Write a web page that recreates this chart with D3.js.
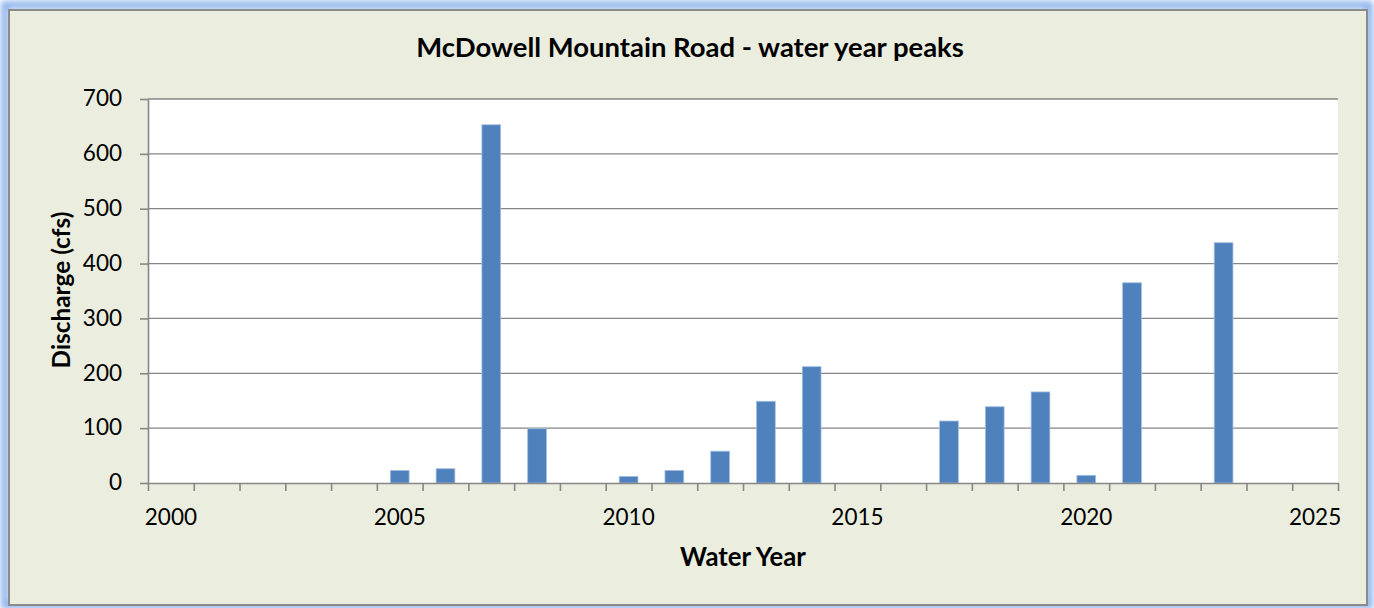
<!DOCTYPE html>
<html>
<head>
<meta charset="utf-8">
<script src="https://cdn.jsdelivr.net/npm/d3@7"></script>
<style>
  html, body { margin: 0; padding: 0; background: #ffffff; }
  svg { display: block; }
  text { font-family: Lato, "Open Sans", sans-serif; fill: #000; }
</style>
</head>
<body>
<svg id="chart" width="1374" height="608"></svg>
<script>
// ---- data ----
const years = d3.range(2000, 2026);            // categories 2000..2025
const peakYears = [2005, 2006, 2007, 2008, 2010, 2011, 2012, 2013, 2014, 2017, 2018, 2019, 2020, 2021, 2023];
const peakValues = [23, 26, 653, 99, 12, 23, 58, 149, 212, 113, 139, 166, 14, 365, 438];
const yTicks = [0, 100, 200, 300, 400, 500, 600, 700];
const xLabelYears = [2000, 2005, 2010, 2015, 2020, 2025];
const titleText = "McDowell Mountain Road - water year peaks";
const xTitle = "Water Year";
const yTitle = "Discharge (cfs)";

// ---- layout ----
const W = 1374, H = 608;
const plot = { left: 148, right: 1338, top: 99, bottom: 483 };
const gray = "#868686";

const svg = d3.select("#chart");

// outer frame with blue glow
const defs = svg.append("defs");
const f = defs.append("filter").attr("id", "glow").attr("x", "-5%").attr("y", "-5%").attr("width", "110%").attr("height", "110%");
f.append("feGaussianBlur").attr("stdDeviation", 3);
svg.append("rect").attr("x", 5).attr("y", 5).attr("width", W - 10).attr("height", H - 8)
  .attr("fill", "none").attr("stroke", "#8fb4ec").attr("stroke-width", 8).attr("filter", "url(#glow)");
svg.append("rect").attr("x", 9).attr("y", 10).attr("width", 1358).attr("height", 595)
  .attr("fill", "#ebeedf").attr("stroke", "#8a8a8a").attr("stroke-width", 2);

// scales
const x = d3.scaleBand().domain(years).range([plot.left, plot.right]).paddingInner(0.59).paddingOuter(0.295);
const xSlots = d3.scaleLinear().domain([0, years.length]).range([plot.left, plot.right]);
const y = d3.scaleLinear().domain([0, 700]).range([plot.bottom, plot.top]);

// plot area
svg.append("rect").attr("x", plot.left).attr("y", plot.top)
  .attr("width", plot.right - plot.left).attr("height", plot.bottom - plot.top).attr("fill", "#ffffff");

// gridlines
svg.append("g").selectAll("line").data(yTicks.filter(d => d > 0)).join("line")
  .attr("x1", plot.left).attr("x2", plot.right)
  .attr("y1", d => y(d)).attr("y2", d => y(d))
  .attr("stroke", gray).attr("stroke-width", 1.3);

// bars
const data = peakYears.map((yr, i) => ({ year: yr, value: peakValues[i] }));
svg.append("g").selectAll("rect").data(data).join("rect")
  .attr("x", d => x(d.year)).attr("width", x.bandwidth())
  .attr("y", d => y(d.value)).attr("height", d => y(0) - y(d.value))
  .attr("fill", "#4f81bd").attr("stroke", "#a6bfe0").attr("stroke-width", 0.8);

// y axis
const yAxis = svg.append("g").attr("transform", `translate(${plot.left},0)`)
  .call(d3.axisLeft(y).tickValues(yTicks).tickSize(8).tickPadding(18).tickSizeOuter(0));
yAxis.select(".domain").attr("stroke", gray).attr("stroke-width", 1.6);
yAxis.selectAll(".tick line").attr("stroke", gray).attr("stroke-width", 1.6);
yAxis.selectAll(".tick text").attr("font-size", 22.5).attr("font-family", "Lato").attr("fill", "#000").attr("dy", "0.3em");

// x axis: tick marks at slot boundaries
const xAxisTicks = svg.append("g").attr("transform", `translate(0,${plot.bottom})`)
  .call(d3.axisBottom(xSlots).tickValues(d3.range(0, years.length + 1)).tickSize(8).tickFormat("").tickSizeOuter(0));
xAxisTicks.select(".domain").attr("stroke", gray).attr("stroke-width", 1.6);
xAxisTicks.selectAll(".tick line").attr("stroke", gray).attr("stroke-width", 1.6);

// x labels centered in category slots
const xLab = svg.append("g").attr("transform", `translate(0,${plot.bottom})`)
  .call(d3.axisBottom(x).tickValues(xLabelYears).tickSize(0).tickPadding(0));
xLab.select(".domain").remove();
xLab.selectAll(".tick text").attr("font-size", 22.5).attr("font-family", "Lato").attr("fill", "#000")
  .attr("dy", null).attr("y", 42);

// helper: fit text to a target width by adjusting font-size
function fit(sel, target) {
  const w = sel.node().getComputedTextLength();
  const fs = parseFloat(sel.attr("font-size"));
  sel.attr("font-size", fs * target / w);
}

// title
const t = svg.append("text").attr("x", 690).attr("y", 57).attr("text-anchor", "middle")
  .attr("font-weight", "bold").attr("font-size", 24).text(titleText);
fit(t, 548);

// x axis title
const xt = svg.append("text").attr("x", 743).attr("y", 566).attr("text-anchor", "middle")
  .attr("font-weight", "bold").attr("font-size", 24).text(xTitle);
fit(xt, 126);

// y axis title
const yt = svg.append("text").attr("transform", "translate(70,290) rotate(-90)").attr("text-anchor", "middle")
  .attr("font-weight", "bold").attr("font-size", 22).text(yTitle);
fit(yt, 157);
</script>
</body>
</html>
